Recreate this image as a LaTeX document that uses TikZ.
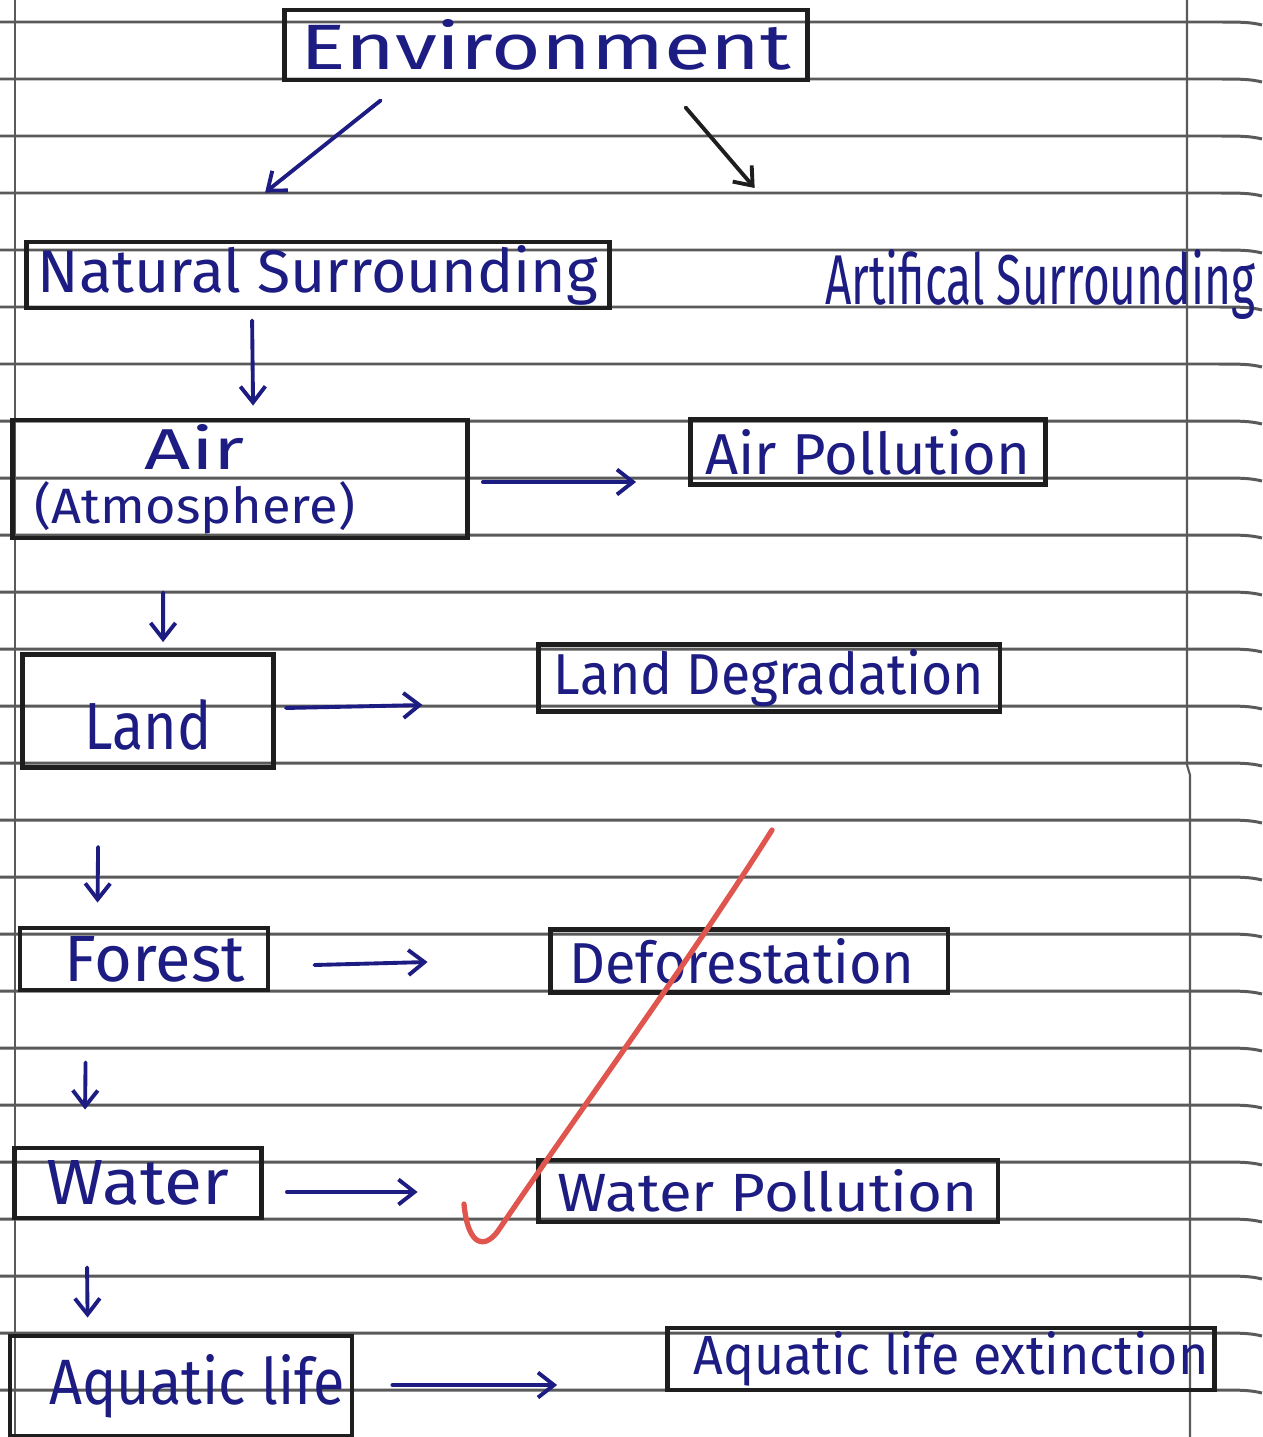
\documentclass[tikz,border=0pt]{standalone}
\usepackage{fontspec}
\setmainfont{Fira Sans}
\usetikzlibrary{arrows.meta,calc}
\definecolor{ink}{RGB}{28,28,130}
\definecolor{ruleline}{RGB}{90,90,90}
\definecolor{boxline}{RGB}{30,30,30}
\definecolor{redpen}{RGB}{224,86,78}
\newlength\pxu \setlength\pxu{0.02cm}
\newcommand\fit[3]{\resizebox{#1\pxu}{#2\pxu}{#3}}
\begin{document}
\begin{tikzpicture}[x=0.02cm,y=-0.02cm,
  rl/.style={draw=ruleline,line width=1.7pt},
  box/.style={draw=boxline,line width=2.8pt,rectangle,inner sep=0pt,text=ink},
  lbl/.style={text=ink,inner sep=0pt},
  arr/.style={draw=ink,line width=2.2pt,line cap=round,-{Straight Barb[length=0.32cm,width=0.5cm,line width=2.2pt]}}]
\useasboundingbox (0,0) rectangle (1262,1437);
\fill[white] (0,0) rectangle (1262,1437);
% ruled paper
\foreach \k in {0,...,24}{
  \pgfmathsetmacro\yy{22+57*\k}
  \pgfmathsetmacro\yb{\yy+3}
  \draw[rl] (0,\yy) -- (1215,\yy) .. controls (1240,\yy) and (1250,\yy) .. (1262,\yb);
}
\draw[rl,line width=1.2pt] (15,0) -- (15,1437);
\draw[rl,line width=1.2pt] (1187,0) -- (1187,765) -- (1190,775) -- (1190,1437);
% boxes
\node[box,minimum width=10.48cm,minimum height=1.4cm] (env) at (546,45) {\fit{490}{50}{Environment}};
\node[box,minimum width=11.66cm,minimum height=1.32cm] (nat) at (318,275) {\fit{560}{47}{Natural Surrounding}};
\node[lbl] (art) at (1040,285) {\fit{430}{55}{Artifical Surrounding}};
\node[box,minimum width=9.1cm,minimum height=2.36cm] (air) at (240,479) {\begin{tabular}{@{}c@{}}\fit{100}{45}{Air}\\[3pt]\fit{320}{42}{(Atmosphere)}\end{tabular}\hspace*{1.8cm}};
\node[box,minimum width=7.1cm,minimum height=1.3cm] (airp) at (868,452) {\fit{325}{45}{Air Pollution}};
\node[box,minimum width=5.02cm,minimum height=2.26cm] (land) at (148,711) {\rule{0pt}{78\pxu}\fit{127}{50}{Land}};
\node[box,minimum width=9.24cm,minimum height=1.34cm] (landd) at (769,678) {\fit{430}{45}{Land Degradation}};
\node[box,minimum width=4.96cm,minimum height=1.24cm] (forest) at (144,959) {\hspace*{22\pxu}\fit{180}{45}{Forest}};
\node[box,minimum width=7.96cm,minimum height=1.26cm] (defor) at (749,961) {\fit{345}{45}{Deforestation}\hspace*{14\pxu}};
\node[box,minimum width=4.94cm,minimum height=1.4cm] (water) at (138,1183) {\fit{182}{44}{Water}};
\node[box,minimum width=9.2cm,minimum height=1.24cm] (waterp) at (768,1191) {\fit{420}{42}{Water Pollution}};
\node[box,minimum width=6.84cm,minimum height=2.0cm] (aqua) at (181,1386) {\hspace*{32\pxu}\fit{295}{50}{Aquatic life}};
\node[box,minimum width=10.94cm,minimum height=1.24cm] (aquae) at (941,1359) {\hspace*{20\pxu}\fit{515}{43}{Aquatic life extinction}};
% connectors
\draw[arr] ($(env.south west)+(99,18)$) -- ($(nat.north west)+(241,-47)$);
\draw[arr,draw=boxline] ($(env.south west)+(404,25)$) -- ($(art.west)+(-70,-97)$);
\draw[arr] ($(nat.south west)+(228,10)$) -- ($(air.north west)+(243,-12)$);
\draw[arr] ($(air.east)+(13,3)$) -- ($(airp.west)+(-52,30)$);
\draw[arr] ($(air.south west)+(153,52)$) -- ($(land.north west)+(143,-10)$);
\draw[arr] ($(land.east)+(10,-3)$) -- ($(landd.west)+(-113,27)$);
\draw[arr] ($(land.south west)+(78,77)$) -- ($(forest.north west)+(80,-23)$);
\draw[arr] ($(forest.east)+(44,6)$) -- ($(defor.west)+(-120,1)$);
\draw[arr] ($(forest.south west)+(68,70)$) -- ($(water.north west)+(73,-36)$);
\draw[arr] ($(water.east)+(23,9)$) -- ($(waterp.west)+(-118,1)$);
\draw[arr] ($(water.south west)+(75,47)$) -- ($(aqua.north west)+(80,-16)$);
\draw[arr] ($(aqua.east)+(38,-1)$) -- ($(aquae.west)+(-108,26)$);
% red tick
\draw[redpen,line width=3pt,line cap=round,line join=round]
  (464,1204) .. controls (468,1248) and (486,1250) .. (500,1228)
  .. controls (580,1110) and (690,960) .. (772,830);
\end{tikzpicture}
\end{document}
